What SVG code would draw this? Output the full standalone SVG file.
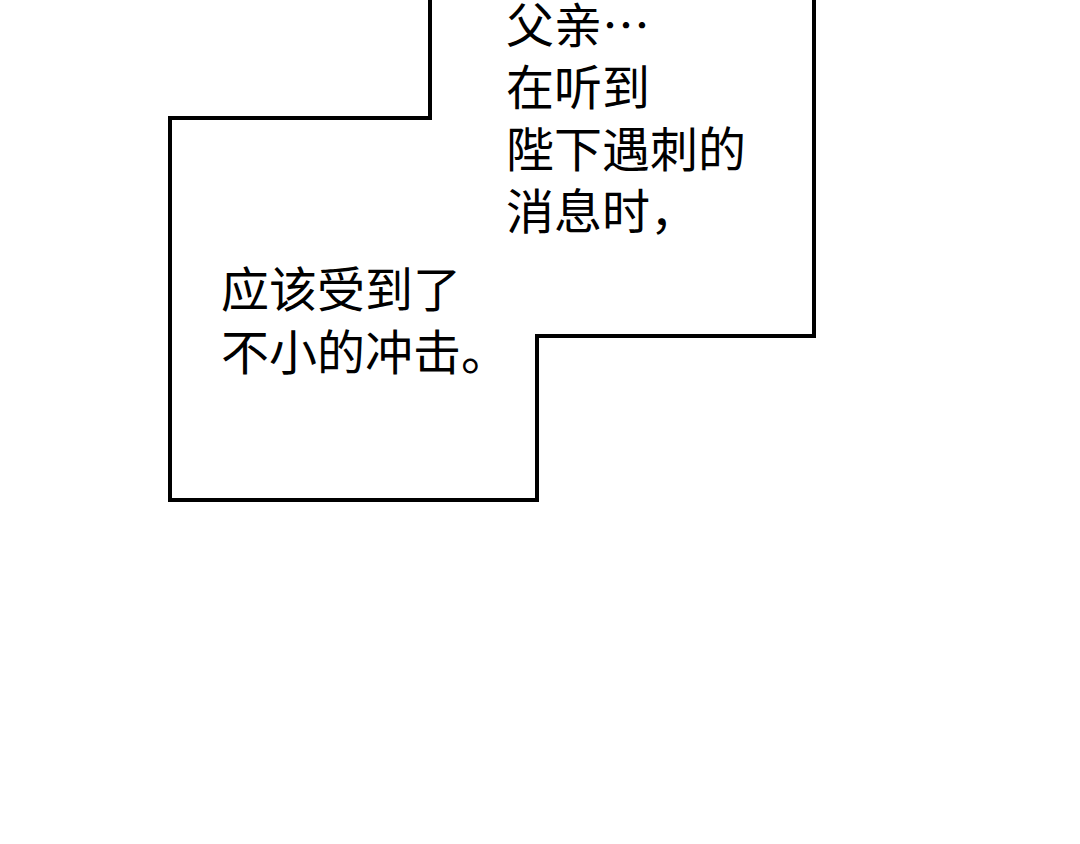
<svg xmlns="http://www.w3.org/2000/svg" width="1080" height="844" viewBox="0 0 1080 844">
<style>
.t{font-family:"Noto Sans CJK SC","Noto Sans",sans-serif;font-size:48px;fill:#000;font-weight:400}
</style>
<rect width="1080" height="844" fill="#fff"/>
<g id="box">
<polyline points="430,-5 430,118 170,118 170,500 537,500 537,336 814,336 814,-5" fill="#fff" stroke="#000" stroke-width="4"/>
</g>
<g id="text1">
<text class="t" x="506" y="43">父亲…</text>
<text class="t" x="506" y="105">在听到</text>
<text class="t" x="506" y="167">陛下遇刺的</text>
<text class="t" x="506" y="229">消息时，</text>
</g>
<g id="text2">
<text class="t" x="221" y="307">应该受到了</text>
<text class="t" x="221" y="370">不小的冲击。</text>
</g>
</svg>
